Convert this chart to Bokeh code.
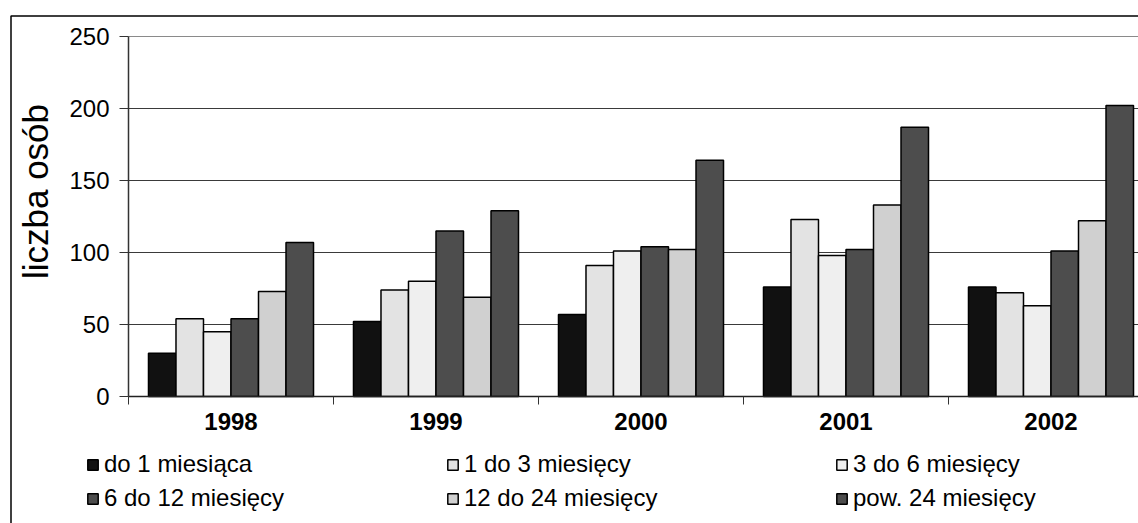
import numpy as np
from bokeh.plotting import figure
from bokeh.models import Range1d, FixedTicker, Legend, LegendItem, BoxAnnotation, Label
from bokeh.embed import file_html
from bokeh.resources import INLINE

years = ["1998", "1999", "2000", "2001", "2002"]
series_names = ["do 1 miesiąca", "1 do 3 miesięcy", "3 do 6 miesięcy",
                "6 do 12 miesięcy", "12 do 24 miesięcy", "pow. 24 miesięcy"]
do_1 = [30, 52, 57, 76, 76]
m1_3 = [54, 74, 91, 123, 72]
m3_6 = [45, 80, 101, 98, 63]
m6_12 = [54, 115, 104, 102, 101]
m12_24 = [73, 69, 102, 133, 122]
pow_24 = [107, 129, 164, 187, 202]
y_ticks = [0, 50, 100, 150, 200, 250]
colors = ["#111111", "#e3e3e3", "#efefef", "#4d4d4d", "#d0d0d0", "#4d4d4d"]
series = [do_1, m1_3, m3_6, m6_12, m12_24, pow_24]

FONT = "Liberation Sans"
FS = "24px"

W, H = 1138, 523
# pixel geometry: y=0 at 396px from top, 1.44 px per unit; category width 205 px, x=0 at 128 px
PX_X0, PX_Y0, SX, SY = 128, 396, 205.0, 1.44

p = figure(width=W, height=H, output_backend="svg", toolbar_location=None,
           x_range=Range1d(-PX_X0 / SX, (W - PX_X0) / SX),
           y_range=Range1d(-(H - PX_Y0) / SY, PX_Y0 / SY),
           min_border=0)
p.outline_line_color = None
p.background_fill_color = "white"
p.border_fill_color = "white"
p.xgrid.visible = False
p.ygrid.visible = False

# horizontal gridlines, starting at the value axis and running to the right edge
grid_vals = y_ticks[1:]
grid_colors = ["#3a3a3a"] * (len(grid_vals) - 1) + ["#8a8a8a"]
p.segment(x0=[0] * len(grid_vals), x1=[(W - PX_X0) / SX + 1] * len(grid_vals),
          y0=grid_vals, y1=grid_vals, line_color=grid_colors, line_width=1.2)

# bars
n = len(series)
gap = 0.0975
bw = (1 - 2 * gap) / n
idx = np.arange(len(years))
renderers = []
for k, (vals, col) in enumerate(zip(series, colors)):
    xs = idx + gap + bw * (k + 0.5)
    r = p.vbar(x=xs, top=vals, width=bw, bottom=0, fill_color=col,
               line_color="black", line_width=1.5)
    renderers.append(r)

# y axis
ya = p.yaxis[0]
ya.fixed_location = 0
ya.bounds = (0, 250)
ya.ticker = FixedTicker(ticks=y_ticks)
ya.major_tick_out = 9
ya.major_tick_in = 0
ya.minor_tick_out = 0
ya.minor_tick_in = 0
ya.axis_line_color = "#333333"
ya.axis_line_width = 1.5
ya.major_tick_line_color = "#333333"
ya.major_label_text_font = FONT
ya.major_label_text_font_size = FS
ya.major_label_text_color = "black"
ya.major_label_standoff = 10

# x axis
xa = p.xaxis[0]
xa.fixed_location = 0
xa.bounds = (0, 5)
xa.ticker = FixedTicker(ticks=[i + 0.5 for i in range(len(years))],
                        minor_ticks=[float(i) for i in range(len(years) + 1)])
xa.major_label_overrides = {i + 0.5: y for i, y in enumerate(years)}
xa.major_tick_out = 0
xa.major_tick_in = 0
xa.minor_tick_out = 8
xa.minor_tick_in = 0
xa.minor_tick_line_color = "#333333"
xa.axis_line_color = "#222222"
xa.axis_line_width = 1.5
xa.major_label_text_font = FONT
xa.major_label_text_font_size = FS
xa.major_label_text_font_style = "bold"
xa.major_label_text_color = "black"
xa.major_label_standoff = 8

# y axis title
ylabel = Label(x=(35 - PX_X0) / SX, y=(PX_Y0 - 191) / SY, text="liczba osób", angle=np.pi / 2,
               text_align="center", text_baseline="middle",
               text_font=FONT, text_font_size="35px", text_color="black")
p.add_layout(ylabel)

# legends: three columns of two rows
legend_x = [86, 446, 835]
for c in range(3):
    items = [LegendItem(label=series_names[c], renderers=[renderers[c]]),
             LegendItem(label=series_names[c + 3], renderers=[renderers[c + 3]])]
    leg = Legend(items=items, location=(legend_x[c], 11), orientation="vertical",
                 glyph_width=13, glyph_height=13, label_standoff=5, spacing=6,
                 label_height=24,
                 padding=0, margin=0, border_line_color=None, background_fill_alpha=0,
                 label_text_font=FONT, label_text_font_size=FS, label_text_color="black")
    p.add_layout(leg)

# outer chart border (left edge at 10 px, top edge at 15 px)
border = BoxAnnotation(left=(10.5 - PX_X0) / SX, right=50, top=(PX_Y0 - 15.5) / SY, bottom=-1000,
                       fill_alpha=0, line_color="black", line_alpha=1.0, line_width=1.5,
                       line_dash="solid")
p.add_layout(border)

open("out.html", "w").write(file_html(p, INLINE))
